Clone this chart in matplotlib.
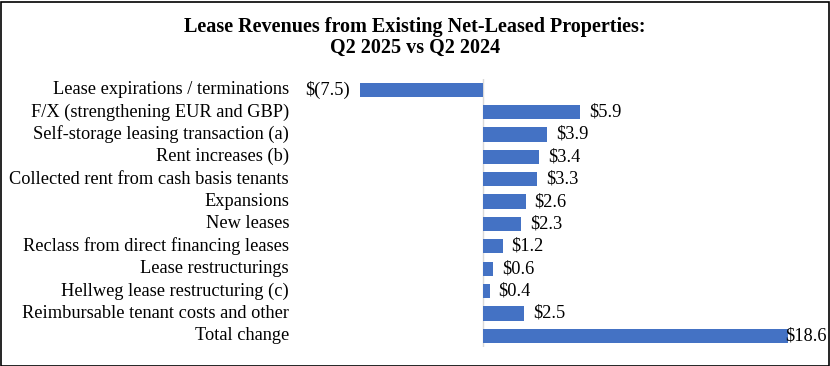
import matplotlib
matplotlib.use("Agg")
import matplotlib.pyplot as plt
from matplotlib.patches import Rectangle

# Données du graphique
categories = [
    "Lease expirations / terminations",
    "F/X (strengthening EUR and GBP)",
    "Self-storage leasing transaction (a)",
    "Rent increases (b)",
    "Collected rent from cash basis tenants",
    "Expansions",
    "New leases",
    "Reclass from direct financing leases",
    "Lease restructurings",
    "Hellweg lease restructuring (c)",
    "Reimbursable tenant costs and other",
    "Total change",
]
values = [-7.5, 5.9, 3.9, 3.4, 3.3, 2.6, 2.3, 1.2, 0.6, 0.4, 2.5, 18.6]
value_labels = ["$(7.5)", "$5.9", "$3.9", "$3.4", "$3.3", "$2.6", "$2.3",
                "$1.2", "$0.6", "$0.4", "$2.5", "$18.6"]

plt.rcParams['font.family'] = ['Liberation Serif', 'DejaVu Serif']

W, H = 830, 366
fig = plt.figure(figsize=(W / 100, H / 100), dpi=100)

# cadre noir autour de la figure
fig.patches.append(Rectangle((0.5 / W, 0.5 / H), 1 - 2 / W, 1 - 2 / H,
                             transform=fig.transFigure, fill=False,
                             edgecolor='black', linewidth=1.2))

fig.text(0.5, 1 - 27 / H, "Lease Revenues from Existing Net-Leased Properties:",
         ha='center', va='center', fontsize=14.5, fontweight='bold')
fig.text(0.5, 1 - 48 / H, "Q2 2025 vs Q2 2024",
         ha='center', va='center', fontsize=14.5, fontweight='bold')

# axes en pixels : x de 360 à 788, y de 78 à 347
left, right = 360, 788
top, bottom = 78.5, 347
ax = fig.add_axes([left / W, 1 - bottom / H, (right - left) / W, (bottom - top) / H])

ypos = list(range(len(categories)))
ax.barh(ypos, values, height=0.64, color='#4472C4')
ax.set_xlim(-7.5, 18.6)
ax.set_ylim(len(categories) - 0.5, -0.5)
ax.axvline(0, color='#D9D9D9', linewidth=1, ymin=0, ymax=1, zorder=0)

for s in ax.spines.values():
    s.set_visible(False)
ax.set_xticks([])
ax.set_yticks([])

fs = 13.2
# étiquettes des catégories
for y, cat in zip(ypos, categories):
    ax.annotate(cat, xy=(0, y), xycoords=('axes fraction', 'data'),
                xytext=(-71, 0), textcoords='offset pixels',
                ha='right', va='center', fontsize=fs)

# étiquettes des valeurs
for y, v, lab in zip(ypos, values, value_labels):
    if v < 0:
        ax.annotate(lab, xy=(v, y), xytext=(-10, 0), textcoords='offset pixels',
                    ha='right', va='center', fontsize=fs, annotation_clip=False)
    elif v == max(values):
        ax.annotate(lab, xy=(v, y), xytext=(-3, 0), textcoords='offset pixels',
                    ha='left', va='center', fontsize=fs, annotation_clip=False)
    else:
        ax.annotate(lab, xy=(v, y), xytext=(9, 0), textcoords='offset pixels',
                    ha='left', va='center', fontsize=fs, annotation_clip=False)

fig.savefig("out.png", dpi=100)
